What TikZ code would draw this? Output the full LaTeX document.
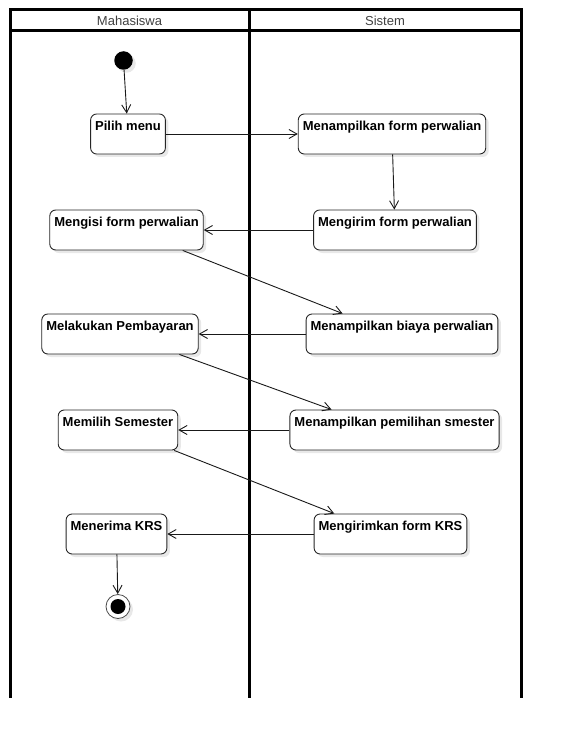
\documentclass[tikz,border=0pt]{standalone}
\usepackage{fontspec}
\setmainfont{Liberation Sans}
\usetikzlibrary{arrows.meta,shadows}

\begin{document}
\begin{tikzpicture}[x=1pt,y=-1pt,line width=0.9pt,>={Straight Barb[length=8pt,width=9pt]},
  font=\fontsize{13}{15}\selectfont,
  lane/.style={line width=3pt,line cap=rect},
  act/.style={draw=black!85,fill=white,rounded corners=6pt,font=\fontsize{13}{15}\selectfont\bfseries,
    inner xsep=4.5pt,inner ysep=0pt,text height=16.5pt,text depth=23.5pt,
    drop shadow={shadow xshift=3pt,shadow yshift=-3pt,fill=black!9,opacity=1}},
  startnode/.style={circle,fill=black,minimum size=18.5pt,inner sep=0pt,
    drop shadow={shadow xshift=3pt,shadow yshift=-3pt,fill=black!9,opacity=1}},
  endnode/.style={circle,draw=black!70,fill=white,minimum size=24pt,inner sep=0pt,line width=0.8pt,
    path picture={\fill[black] (path picture bounding box.center) circle (7.5pt);},
    drop shadow={shadow xshift=3pt,shadow yshift=-3pt,fill=black!9,opacity=1}},
  flow/.style={->,draw=black!90}]
  \useasboundingbox (0,0) rectangle (561,738);
  % jalur
  \draw[lane] (10,696.5) -- (10,10) -- (521,10) -- (521,696.5);
  \draw[lane] (10,31) -- (521,31);
  \draw[lane] (249,10) -- (249,696.5);
  \node[text=black!75] (hmhs) at (129.5,20.5) {Mahasiswa};
  \node[text=black!75] (hsis) at (385,20.5) {Sistem};
  % aktivitas
  \node[startnode] (mulai) at (123.5,60.5) {};
  \node[act] (pilih) at (128,134) {Pilih menu};
  \node[act] (tampilform) at (392,134) {Menampilkan form perwalian};
  \node[act] (kirimform) at (395,230) {Mengirim form perwalian};
  \node[act] (isiform) at (126.5,230) {Mengisi form perwalian};
  \node[act] (biaya) at (402,334) {Menampilkan biaya perwalian};
  \node[act] (bayar) at (120,334) {Melakukan Pembayaran};
  \node[act] (pilihsem) at (394.5,430) {Menampilkan pemilihan smester};
  \node[act] (semester) at (118,430) {Memilih Semester};
  \node[act] (kirimkrs) at (390.5,534) {Mengirimkan form KRS};
  \node[act] (terima) at (116.5,534) {Menerima KRS};
  \node[endnode] (selesai) at (118,606.5) {};
  % alur
  \draw[flow] (mulai) -- (pilih);
  \draw[flow] (pilih) -- (tampilform);
  \draw[flow] (tampilform) -- (kirimform);
  \draw[flow] (kirimform) -- (isiform);
  \draw[flow] (isiform.-20) -- (biaya.161);
  \draw[flow] (biaya) -- (bayar);
  \draw[flow] (bayar.-19) -- (pilihsem.162);
  \draw[flow] (pilihsem) -- (semester);
  \draw[flow] (semester.-20) -- (kirimkrs.160);
  \draw[flow] (kirimkrs) -- (terima);
  \draw[flow] (terima) -- (selesai);
\end{tikzpicture}
\end{document}
